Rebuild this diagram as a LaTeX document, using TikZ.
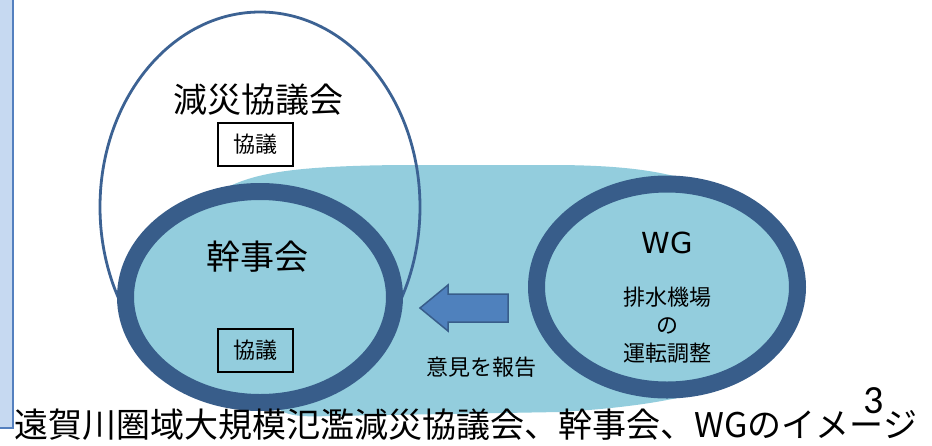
\documentclass[tikz,border=0pt]{standalone}
\usepackage{fontspec}
\setmainfont{Noto Sans CJK JP}
\newfontfamily\numfont{Carlito}
\newfontfamily\wgfont{DejaVu Sans}
\usetikzlibrary{shapes.geometric}
\definecolor{blobblue}{HTML}{93CDDD}
\definecolor{ringblue}{HTML}{385D8A}
\definecolor{thinblue}{HTML}{3C6293}
\definecolor{arrowblue}{HTML}{4F81BD}
\definecolor{panelblue}{HTML}{C6D9F1}
\definecolor{panelline}{HTML}{5480BF}
\tikzset{
  ring/.style={ellipse, draw=ringblue, line width=17pt, fill=blobblue, inner sep=0pt, outer sep=0pt},
  thinring/.style={ellipse, draw=thinblue, line width=2.8pt, inner sep=0pt, outer sep=0pt},
  bigtext/.style={font=\fontsize{34}{40}\selectfont, inner sep=0pt},
  midtext/.style={font=\fontsize{22}{28}\selectfont, inner sep=0pt, align=center},
  talkbox/.style={draw=black, line width=1.3pt, minimum width=75pt, minimum height=43pt, inner sep=0pt, font=\fontsize{22}{26}\selectfont},
  blockarrow/.style={fill=arrowblue, draw=ringblue, line width=1.5pt, line join=miter},
  blob/.style={fill=blobblue, draw=none}
}
\begin{document}
\begin{tikzpicture}[x=1pt,y=-1pt]
\useasboundingbox (0,0) rectangle (932,445);
\fill[white] (0,0) rectangle (932,445);
% left panel
\draw[fill=panelblue, draw=panelline, line width=1.5pt] (-10,-10) rectangle (13,428);
% light blue blob
\path[blob] (250,250) -- (230,186) .. controls (260,172) and (300,166) .. (400,165)
  -- (560,165) .. controls (650,166) and (720,175) .. (780,235)
  -- (780,340) .. controls (760,385) and (680,405) .. (560,412)
  -- (330,416) .. controls (300,417) and (280,417) .. (270,400) -- cycle;
% outer thin ellipse
\node[thinring, minimum width=320pt, minimum height=390pt] (council) at (260,207) {};
% rings
\node[ring, minimum width=269pt, minimum height=211pt] (kanji) at (260,297) {};
\node[ring, minimum width=261pt, minimum height=206pt] (wg) at (667,287) {};
% arrow
\path[blockarrow] (508,294) -- (448,294) -- (448,285) -- (420,308) -- (448,331) -- (448,322) -- (508,322) -- cycle;
% texts
\node[bigtext] (t1) at (258,100) {減災協議会};
\node[talkbox] (b1) at (255.5,144.5) {協議};
\node[bigtext] (t2) at (257,257) {幹事会};
\node[talkbox] (b2) at (255.5,350.5) {協議};
\node[inner sep=0pt, font=\wgfont\fontsize{29}{32}\selectfont] (wgt) at (667,243) {WG};
\node[midtext] (wgsub) at (667,325) {排水機場\\の\\運転調整};
\node[midtext] (rep) at (481,367) {意見を報告};
\node[bigtext] (title) at (466,425) {遠賀川圏域大規模氾濫減災協議会、幹事会、WGのイメージ};
\node[inner sep=0pt, font=\numfont\fontsize{40}{44}\selectfont] (pg) at (874,401) {3};
\end{tikzpicture}
\end{document}
